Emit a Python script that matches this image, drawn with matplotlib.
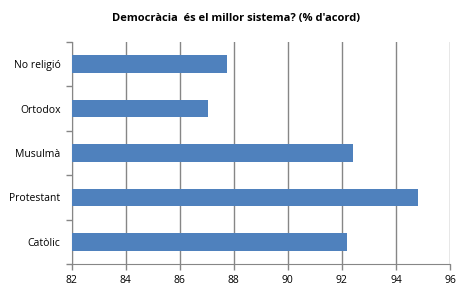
import matplotlib
matplotlib.use("Agg")
import matplotlib.pyplot as plt
import numpy as np

categories = ["Catòlic", "Protestant", "Musulmà", "Ortodox", "No religió"]
values = [92.2, 94.8, 92.4, 87.05, 87.75]
xticks = [82, 84, 86, 88, 90, 92, 94, 96]
title = "Democràcia  és el millor sistema? (% d'acord)"

plt.rcParams['font.family'] = ['Open Sans', 'DejaVu Sans']

fig = plt.figure(figsize=(4.71, 2.96), dpi=100)
ax = fig.add_axes([71.5/471, 1-264/296, (450-71.5)/471, (264-42)/296])

y = np.arange(len(categories))
ax.barh(y, values, height=0.4, color="#4F81BD", left=0, zorder=3)
ax.set_xlim(82, 96)
ax.set_ylim(-0.5, len(categories)-0.5)
ax.set_xticks(xticks)
ax.set_xticklabels([str(t) for t in xticks], fontsize=7.5)
ax.set_yticks(np.arange(-0.5, len(categories), 1.0))
ax.set_yticklabels([])
ax.set_yticks(y, minor=True)
ax.set_yticklabels(categories, minor=True, fontsize=7.5)
ax.tick_params(axis='y', which='minor', length=0, pad=8)
ax.tick_params(axis='y', which='major', length=4, color="#868686", width=1)
ax.tick_params(axis='x', length=4, color="#868686", width=1, pad=4)
ax.grid(axis='x', color="#868686", linewidth=1, zorder=0)
for s in ['top', 'right']:
    ax.spines[s].set_visible(False)
for s in ['left', 'bottom']:
    ax.spines[s].set_color("#868686")
fig.text(236/471, 1-18/296, title, fontsize=8, fontweight='bold', ha='center', va='center')
fig.savefig("out.png", dpi=100)
